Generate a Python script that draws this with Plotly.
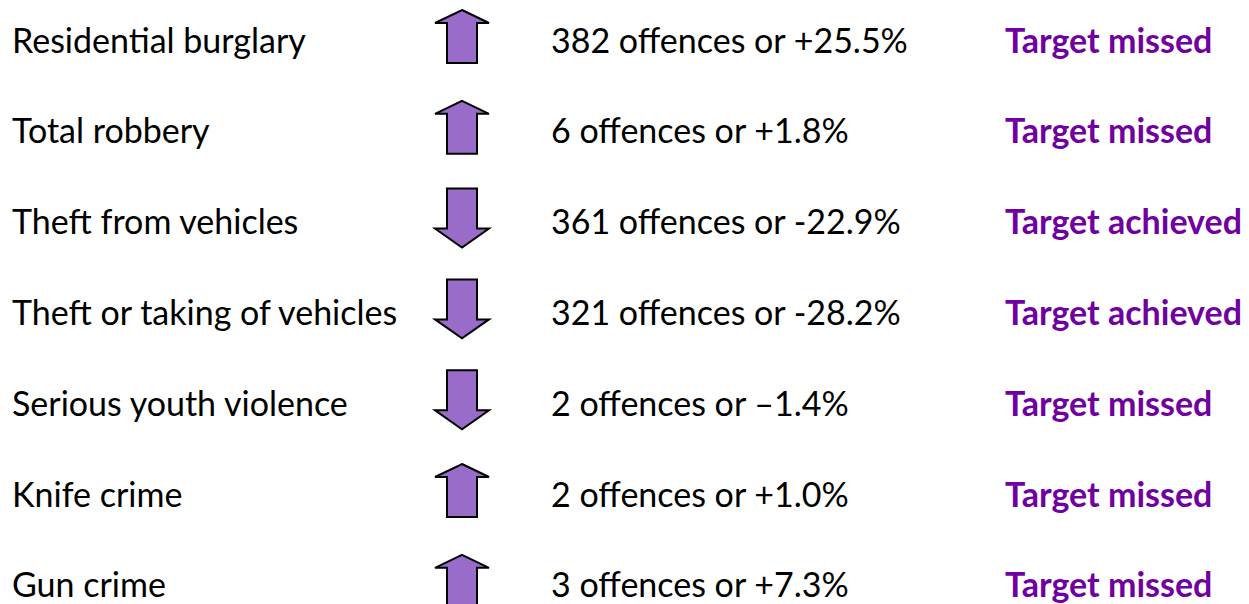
import plotly.graph_objects as go

categories = ["Residential burglary", "Total robbery", "Theft from vehicles",
              "Theft or taking of vehicles", "Serious youth violence", "Knife crime", "Gun crime"]
offences = [382, 6, 361, 321, 2, 2, 3]
pct_labels = ["+25.5%", "+1.8%", "-22.9%", "-28.2%", "\u20131.4%", "+1.0%", "+7.3%"]
directions = ["up", "up", "down", "down", "down", "up", "up"]
outcomes = ["Target missed", "Target missed", "Target achieved", "Target achieved",
            "Target missed", "Target missed", "Target missed"]

W, H = 1249, 604
OFF = 8  # page body margin
ROW0, ROWSTEP = 39, 90.8
FONT = "Lato"
FS = 34
PURPLE = "#7000A0"

def ypix(i):
    return ROW0 + ROWSTEP * i

fig = go.Figure()

def arrow_path(cx, yc, d, hw, sw):
    if d == "up":
        tip, hb, bot = yc - 29, yc - 16, yc + 24
        return (f"M {cx},{tip} L {cx+hw},{hb} L {cx+sw},{hb} L {cx+sw},{bot} "
                f"L {cx-sw},{bot} L {cx-sw},{hb} L {cx-hw},{hb} Z")
    top, ht, tip = yc - 32, yc + 8, yc + 27
    return (f"M {cx-sw},{top} L {cx+sw},{top} L {cx+sw},{ht} L {cx+hw},{ht} "
            f"L {cx},{tip} L {cx-hw},{ht} L {cx-sw},{ht} Z")

cx = 462
shapes = []
for i, d in enumerate(directions):
    yc = ypix(i)
    shapes.append(dict(type="path", path=arrow_path(cx, yc, d, 27, 15), xref="x", yref="y",
                       fillcolor="#9a6cc9", line=dict(color="black", width=2), layer="above"))

annotations = []
for i in range(len(categories)):
    yc = ypix(i)
    annotations.append(dict(x=10, y=yc, text=categories[i], xanchor="left", yanchor="middle",
                            showarrow=False, font=dict(family=FONT, size=FS, color="black")))
    annotations.append(dict(x=549, y=yc, text=f"{offences[i]} offences or {pct_labels[i]}",
                            xanchor="left", yanchor="middle", showarrow=False,
                            font=dict(family=FONT, size=FS, color="black")))
    annotations.append(dict(x=1003, y=yc, text=f"<b>{outcomes[i]}</b>", xanchor="left",
                            yanchor="middle", showarrow=False,
                            font=dict(family=FONT, size=FS, color=PURPLE)))

fig.update_layout(
    width=W, height=H, margin=dict(l=0, r=0, t=0, b=0),
    paper_bgcolor="white", plot_bgcolor="white",
    xaxis=dict(range=[OFF, W + OFF], visible=False, fixedrange=True),
    yaxis=dict(range=[H + OFF, OFF], visible=False, fixedrange=True),
    shapes=shapes, annotations=annotations, showlegend=False,
)
fig.write_html("out.html")
